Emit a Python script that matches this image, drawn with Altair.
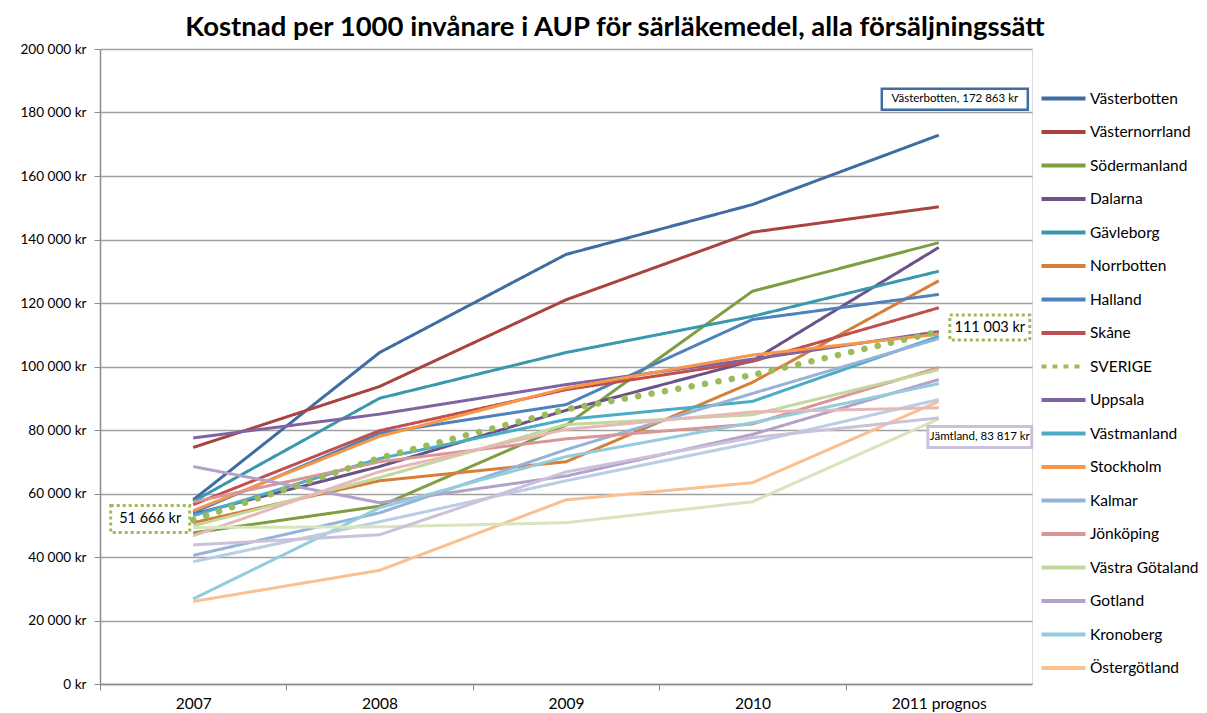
import altair as alt
import pandas as pd

years = [2007, 2008, 2009, 2010, 2011]
year_labels = ["2007", "2008", "2009", "2010", "2011 prognos"]

vasterbotten = [58000, 104400, 135300, 151000, 172863]
vasternorrland = [74500, 93700, 121000, 142300, 150300]
sodermanland = [47600, 56000, 81500, 123700, 139000]
dalarna = [53500, 68500, 86200, 101800, 137500]
gavleborg = [57500, 90000, 104400, 115800, 130000]
norrbotten = [50800, 64000, 70000, 95000, 127000]
halland = [54000, 79000, 88000, 114800, 122700]
skane = [56500, 79800, 92700, 101600, 118500]
sverige = [51666, 71200, 86500, 97300, 111003]
uppsala = [77500, 85000, 94300, 102300, 111000]
vastmanland = [53000, 71000, 83300, 89000, 109500]
stockholm = [54600, 78000, 93200, 103600, 110200]
kalmar = [40500, 53900, 73800, 91500, 108800]
jonkoping = [57300, 70000, 77200, 81900, 99700]
vastra_gotaland = [49800, 65000, 81700, 84800, 99000]
gotland = [68500, 57100, 65500, 78600, 95900]
kronoberg = [26800, 55500, 71600, 82300, 94600]
ostergotland = [26000, 35800, 58000, 63400, 89000]
varmland = [38500, 51100, 64000, 76000, 89600]
orebro = [46700, 66900, 80200, 85700, 87000]
blekinge = [49300, 49500, 50800, 57400, 83500]
jamtland = [43800, 47000, 66800, 77600, 83817]

names = ["Västerbotten", "Västernorrland", "Södermanland", "Dalarna", "Gävleborg",
         "Norrbotten", "Halland", "Skåne", "SVERIGE", "Uppsala", "Västmanland",
         "Stockholm", "Kalmar", "Jönköping", "Västra Götaland", "Gotland",
         "Kronoberg", "Östergötland", "Värmland", "Örebro", "Blekinge", "Jämtland"]
series = [vasterbotten, vasternorrland, sodermanland, dalarna, gavleborg,
          norrbotten, halland, skane, sverige, uppsala, vastmanland,
          stockholm, kalmar, jonkoping, vastra_gotaland, gotland,
          kronoberg, ostergotland, varmland, orebro, blekinge, jamtland]
colors = ["#3F6CA2", "#A9433F", "#7E9E41", "#6B5289", "#3A97AD",
          "#D67F38", "#4F81BD", "#C0504D", "#9BBB59", "#8064A2", "#4BACC6",
          "#F79646", "#95B3D7", "#D99694", "#C3D69B", "#B3A2C7",
          "#93CDDD", "#FAC090", "#B9CDE5", "#E6B9B8", "#D7E4BD", "#CCC1DA"]
legend_names = names[:18]

rows = []
for i, (n, vals) in enumerate(zip(names, series)):
    for y, v in zip(years, vals):
        rows.append({"Region": n, "Year": y, "Value": v, "order": i})
df = pd.DataFrame(rows)
df_counties = df[df.Region != "SVERIGE"]
df_sverige = df[df.Region == "SVERIGE"]

dash_range = [[5, 6] if n == "SVERIGE" else [1, 0] for n in names]


def kr(v):
    return f"{v:,}".replace(",", " ") + " kr"


label_expr = " : ".join(
    f"datum.value == {y} ? '{lab}'" for y, lab in zip(years, year_labels)
) + " : ''"

band = 932 / 5

x_enc = alt.X("Year:Q",
              scale=alt.Scale(domain=[years[0] - 0.5, years[-1] + 0.5], nice=False, zero=False),
              axis=alt.Axis(values=years, labelExpr=label_expr, title=None, grid=False,
                            tickOffset=-band / 2, labelOffset=band / 2, tickSize=6,
                            tickColor="#8C8C8C", domainColor="#8C8C8C", domainWidth=1.5,
                            labelPadding=6, labelFontSize=15.5, labelColor="#000000",
                            labelFont="Lato"))
y_enc = alt.Y("Value:Q",
              scale=alt.Scale(domain=[0, 200000], nice=False),
              axis=alt.Axis(values=list(range(0, 200001, 20000)),
                            labelExpr="replace(format(datum.value, ','), ',', ' ') + ' kr'",
                            title=None, grid=True, gridColor="#A0A0A0", gridWidth=1.3,
                            tickSize=6, tickColor="#8C8C8C", domainColor="#8C8C8C",
                            domainWidth=1.5, labelPadding=8, labelFontSize=13.6,
                            labelColor="#000000", labelFont="Lato"))

legend = alt.Legend(title=None, values=legend_names, orient="none", legendX=946, legendY=32,
                    symbolType="M-1.42,0L1.42,0", symbolSize=961, symbolStrokeWidth=4,
                    labelFontSize=15.5, labelFont="Lato", labelColor="#000000",
                    labelOffset=9, rowPadding=7.5, labelLimit=200)

lines = alt.Chart(df_counties).mark_line(strokeWidth=3, strokeJoin="round").encode(
    x=x_enc, y=y_enc,
    color=alt.Color("Region:N", scale=alt.Scale(domain=names, range=colors), legend=legend),
    strokeDash=alt.StrokeDash("Region:N", scale=alt.Scale(domain=names, range=dash_range),
                              legend=legend),
    order="order:Q",
)

dots = alt.Chart(df_sverige).mark_line(
    strokeWidth=6.5, strokeDash=[0.1, 13.5], strokeCap="round", color="#9BBB59"
).encode(x="Year:Q", y="Value:Q")

ann = [
    # label, year, value, width, height, dx, dy, stroke, dash, strokeWidth, fontSize
    (f"Västerbotten, {kr(vasterbotten[-1])}", years[-1], vasterbotten[-1], 146, 21, 16, -36,
     "#3F6CA2", None, 2.5, 11.5),
    (kr(sverige[-1]), years[-1], sverige[-1], 80, 25, 51, -4, "#9BBB59", [3, 3], 3, 14.5),
    (f"Jämtland, {kr(jamtland[-1])}", years[-1], jamtland[-1], 104, 21, 41, 19,
     "#CCC1DA", None, 3, 11.5),
    (kr(sverige[0]), years[0], sverige[0], 79, 27, -43, -1, "#9BBB59", [3, 3], 3, 14.5),
]

layers = [lines, dots]
for lab, yr, val, w, h, dx, dy, stroke, dash, sw, fs in ann:
    d = pd.DataFrame({"Year": [yr], "Value": [val], "label": [lab]})
    r = h / w
    path = f"M-1,-{r:.4f}L1,-{r:.4f}L1,{r:.4f}L-1,{r:.4f}Z"
    pkw = dict(shape=path, size=w * w, filled=True, fill="white", stroke=stroke,
               strokeWidth=sw, opacity=1, xOffset=dx, yOffset=dy)
    if dash:
        pkw["strokeDash"] = dash
    box = alt.Chart(d).mark_point(**pkw).encode(x="Year:Q", y="Value:Q")
    txt = alt.Chart(d).mark_text(dx=dx, dy=dy, fontSize=fs, font="Lato", color="#000000",
                                 align="center", baseline="middle").encode(
        x="Year:Q", y="Value:Q", text="label:N")
    layers += [box, txt]

chart = alt.layer(*layers).properties(
    width=932, height=635,
    title=alt.TitleParams("Kostnad per 1000 invånare i AUP för särläkemedel, alla försäljningssätt",
                          fontSize=27.5, font="Lato", fontWeight="bold", color="#000000",
                          anchor="middle", dx=49, offset=1),
    autosize=alt.AutoSizeParams(type="none"),
    padding={"left": 92, "top": 41, "right": 167, "bottom": 29},
).configure_view(stroke=None).configure(background="white")

chart.save("out.html", embed_options={"renderer": "svg", "actions": False})
